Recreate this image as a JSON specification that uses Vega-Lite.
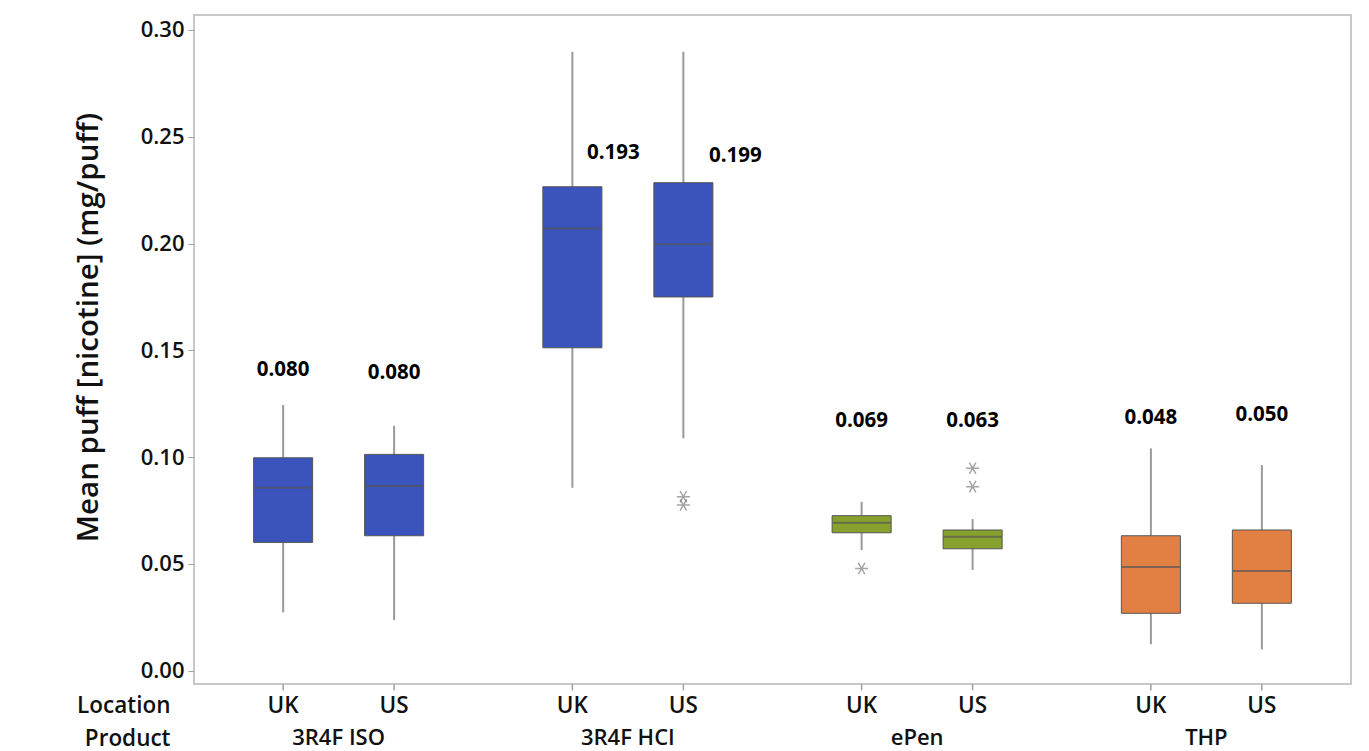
{
  "$schema": "https://vega.github.io/schema/vega-lite/v6.json",
  "autosize": {"type": "none"},
  "width": 1157,
  "height": 669,
  "padding": {"left": 194, "top": 15, "right": 18, "bottom": 67},
  "background": "white",
  "config": {
    "view": {"stroke": "#c8c8c8", "strokeWidth": 2},
    "font": "Open Sans"
  },
  "datasets": {
    "boxes": [
      {"product": "3R4F ISO", "location": "UK", "lower_whisker": 0.0273, "q1": 0.0601, "median": 0.0857, "q3": 0.0997, "upper_whisker": 0.1244, "mean": 0.080, "label_y": 0.1407},
      {"product": "3R4F ISO", "location": "US", "lower_whisker": 0.0237, "q1": 0.0632, "median": 0.0865, "q3": 0.1013, "upper_whisker": 0.1147, "mean": 0.080, "label_y": 0.1394},
      {"product": "3R4F HCI", "location": "UK", "lower_whisker": 0.0857, "q1": 0.1512, "median": 0.2070, "q3": 0.2266, "upper_whisker": 0.2898, "mean": 0.193, "label_y": 0.2423},
      {"product": "3R4F HCI", "location": "US", "lower_whisker": 0.1088, "q1": 0.1750, "median": 0.1997, "q3": 0.2285, "upper_whisker": 0.2898, "mean": 0.199, "label_y": 0.2409},
      {"product": "ePen", "location": "UK", "lower_whisker": 0.0565, "q1": 0.0646, "median": 0.0693, "q3": 0.0726, "upper_whisker": 0.0791, "mean": 0.069, "label_y": 0.1169},
      {"product": "ePen", "location": "US", "lower_whisker": 0.0472, "q1": 0.0571, "median": 0.0627, "q3": 0.0659, "upper_whisker": 0.0710, "mean": 0.063, "label_y": 0.1169},
      {"product": "THP", "location": "UK", "lower_whisker": 0.0124, "q1": 0.0269, "median": 0.0486, "q3": 0.0632, "upper_whisker": 0.1041, "mean": 0.048, "label_y": 0.1183},
      {"product": "THP", "location": "US", "lower_whisker": 0.0100, "q1": 0.0316, "median": 0.0467, "q3": 0.0659, "upper_whisker": 0.0963, "mean": 0.050, "label_y": 0.1197}
    ],
    "outliers": [
      {"product": "3R4F HCI", "location": "US", "value": 0.0815},
      {"product": "3R4F HCI", "location": "US", "value": 0.0776},
      {"product": "ePen", "location": "UK", "value": 0.0479},
      {"product": "ePen", "location": "US", "value": 0.0948},
      {"product": "ePen", "location": "US", "value": 0.0862}
    ]
  },
  "data": {"name": "boxes"},
  "encoding": {
    "x": {
      "field": "product", "type": "nominal",
      "sort": ["3R4F ISO", "3R4F HCI", "ePen", "THP"],
      "scale": {"paddingInner": 0.2, "paddingOuter": 0.1},
      "axis": {
        "orient": "bottom", "ticks": false, "domain": false, "labelAngle": 0,
        "labelFontSize": 22, "labelFontWeight": 600, "labelColor": "#111111",
        "labelPadding": 43,
        "title": ["Location", "Product"], "titleAngle": 0, "titleAlign": "right",
        "titleBaseline": "middle", "titleX": -24, "titleY": 21, "titleLineHeight": 33,
        "titleFontSize": 22.5, "titleFontWeight": 600, "titleColor": "#111111"
      }
    },
    "xOffset": {
      "field": "location", "type": "nominal", "sort": ["UK", "US"],
      "scale": {"paddingInner": 0.468, "paddingOuter": 0.2765}
    }
  },
  "layer": [
    {
      "mark": {"type": "rule", "color": "#9a9a9a", "strokeWidth": 2},
      "encoding": {
        "y": {
          "field": "lower_whisker", "type": "quantitative",
          "scale": {"domain": [-0.0062, 0.307], "nice": false, "zero": false},
          "axis": {
            "values": [0, 0.05, 0.1, 0.15, 0.2, 0.25, 0.3], "format": ".2f",
            "grid": false, "domain": false, "tickSize": 6, "tickColor": "#a0a0a0",
            "labelFontSize": 22, "labelFontWeight": 600, "labelColor": "#111111", "labelPadding": 4,
            "title": "Mean puff [nicotine] (mg/puff)", "titleFontSize": 29.5,
            "titleFontWeight": 600, "titleColor": "#111111",
            "titleAngle": -90, "titleAlign": "center", "titleBaseline": "middle",
            "titleX": -106, "titleY": 312
          }
        },
        "y2": {"field": "upper_whisker"}
      }
    },
    {
      "mark": {"type": "bar", "stroke": "#555555", "strokeWidth": 1},
      "encoding": {
        "y": {"field": "q1", "type": "quantitative"},
        "y2": {"field": "q3"},
        "color": {
          "field": "product", "type": "nominal",
          "scale": {"domain": ["3R4F ISO", "3R4F HCI", "ePen", "THP"], "range": ["#3a53bd", "#3a53bd", "#86a22c", "#e28043"]},
          "legend": null
        }
      }
    },
    {
      "mark": {"type": "tick", "color": "#555555", "thickness": 2, "size": 58},
      "encoding": {"y": {"field": "median", "type": "quantitative"}}
    },
    {
      "mark": {"type": "rule", "color": "#a0a0a0", "strokeWidth": 1.5},
      "encoding": {"y": {"datum": -0.0062}, "y2": {"datum": -0.0092}}
    },
    {
      "mark": {"type": "text", "baseline": "top", "dy": 11, "fontSize": 22.5, "fontWeight": 600, "color": "#111111"},
      "encoding": {"y": {"datum": -0.0062}, "text": {"field": "location"}}
    },
    {
      "transform": [{"filter": "datum.product != '3R4F HCI'"}],
      "mark": {"type": "text", "fontSize": 20.5, "fontWeight": "bold", "color": "#000000", "baseline": "middle"},
      "encoding": {
        "y": {"field": "label_y", "type": "quantitative"},
        "text": {"field": "mean", "type": "quantitative", "format": ".3f"}
      }
    },
    {
      "transform": [{"filter": "datum.product == '3R4F HCI' && datum.location == 'UK'"}],
      "mark": {"type": "text", "fontSize": 20.5, "fontWeight": "bold", "color": "#000000", "baseline": "middle", "dx": 41},
      "encoding": {
        "y": {"field": "label_y", "type": "quantitative"},
        "text": {"field": "mean", "type": "quantitative", "format": ".3f"}
      }
    },
    {
      "transform": [{"filter": "datum.product == '3R4F HCI' && datum.location == 'US'"}],
      "mark": {"type": "text", "fontSize": 20.5, "fontWeight": "bold", "color": "#000000", "baseline": "middle", "dx": 52},
      "encoding": {
        "y": {"field": "label_y", "type": "quantitative"},
        "text": {"field": "mean", "type": "quantitative", "format": ".3f"}
      }
    },
    {
      "data": {"name": "outliers"},
      "mark": {
        "type": "point", "filled": false, "stroke": "#808080", "strokeWidth": 1.5, "size": 170,
        "shape": "M-1,0L1,0M-0.5,-0.87L0.5,0.87M-0.5,0.87L0.5,-0.87"
      },
      "encoding": {"y": {"field": "value", "type": "quantitative"}}
    }
  ]
}
